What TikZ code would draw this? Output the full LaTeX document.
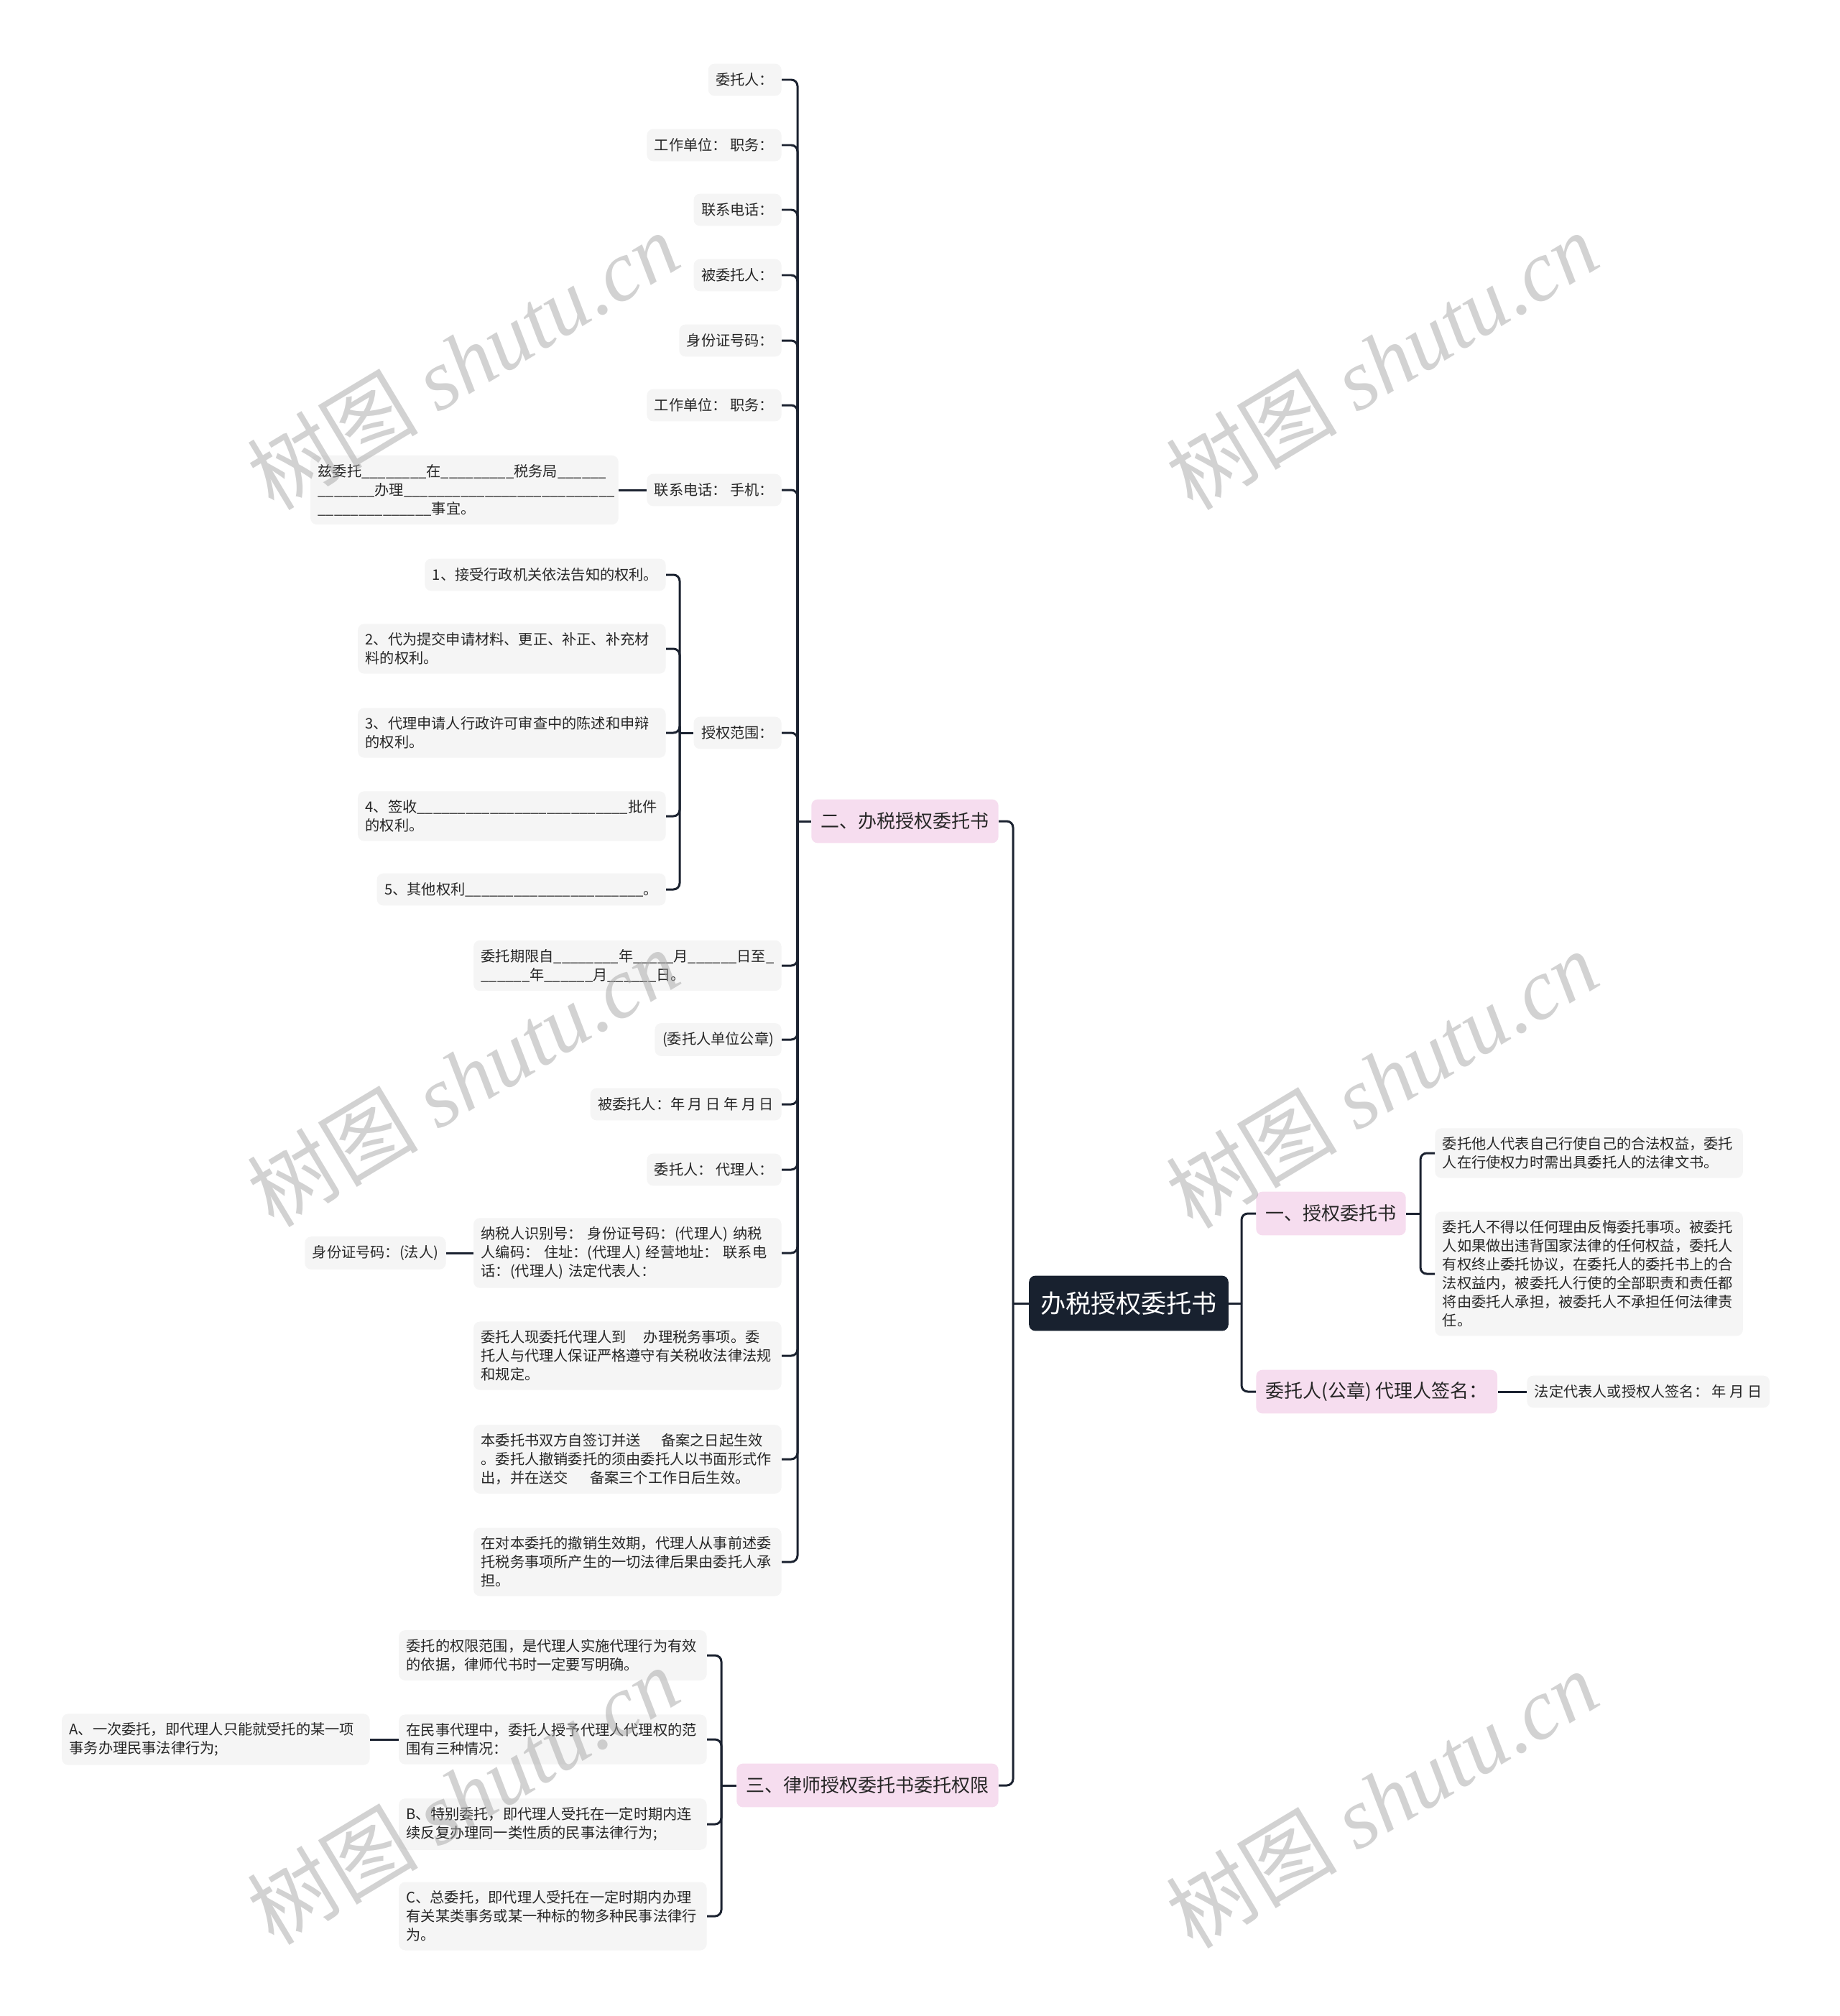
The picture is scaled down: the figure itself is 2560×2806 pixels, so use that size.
\documentclass[tikz,border=0pt]{standalone}
\usepackage{fontspec}
\setmainfont{Noto Sans CJK SC}
\newfontfamily\wmlatin{Liberation Serif}

\definecolor{rootnavy}{HTML}{18212F}
\definecolor{pinkfill}{HTML}{F6DDEF}
\definecolor{leafgray}{HTML}{F5F5F5}
\definecolor{linkcol}{HTML}{1B2230}

% a run of underscores
\newcommand\blank[1]{\foreach\k in {1,...,#1}{\_}}

\begin{document}
\begin{tikzpicture}[x=0.02cm,y=-0.02cm,
    rootbox/.style={fill=rootnavy,text=white,rounded corners=5pt,font=\fontsize{20}{24}\selectfont,inner xsep=9pt,inner ysep=0pt,minimum height=43.7pt},
    secbox/.style={fill=pinkfill,text=black!85,rounded corners=5pt,font=\fontsize{14.8}{18}\selectfont,inner xsep=7.5pt,inner ysep=0pt,minimum height=34.6pt},
    leaf/.style={fill=leafgray,text=black!85,rounded corners=5pt,font=\fontsize{11.5}{14.75}\selectfont,inner xsep=6pt,inner ysep=7pt,minimum height=25.5pt,align=left},
    wide/.style={leaf,text width=8.15cm},
    link/.style={draw=linkcol,line width=1.7pt,rounded corners=5pt},
    wmark/.style={text=black!35,text opacity=0.5,rotate=31,font=\fontsize{68}{76}\selectfont}]
    \useasboundingbox (0,0) rectangle (2560,2806);

    % Root and the four main branches
    \node[rootbox] (root) at (1571,1814) {办税授权委托书};
    \node[secbox,anchor=west] (sec1) at (1748,1689) {一、授权委托书};
    \node[secbox,anchor=west] (sign) at (1748,1937) {委托人(公章) 代理人签名：};
    \node[secbox,anchor=east] (sec2) at (1390,1143) {二、办税授权委托书};
    \node[secbox,anchor=east] (sec3) at (1390,2485) {三、律师授权委托书委托权限};

    % Right side leaves
    \node[wide,anchor=west] (s1a) at (1997,1605) {委托他人代表自己行使自己的合法权益，委托\\人在行使权力时需出具委托人的法律文书。};
    \node[wide,anchor=west] (s1b) at (1997,1773) {委托人不得以任何理由反悔委托事项。被委托\\人如果做出违背国家法律的任何权益，委托人\\有权终止委托协议，在委托人的委托书上的合\\法权益内，被委托人行使的全部职责和责任都\\将由委托人承担，被委托人不承担任何法律责\\任。};
    \node[leaf,anchor=west] (signd) at (2125,1937) {法定代表人或授权人签名：\ 年 月 日};

    % Branch two: the form fields
    \node[leaf,anchor=east] (b1) at (1088,111) {委托人：};
    \node[leaf,anchor=east] (b2) at (1088,202) {工作单位：\ 职务：};
    \node[leaf,anchor=east] (b3) at (1088,292) {联系电话：};
    \node[leaf,anchor=east] (b4) at (1088,383) {被委托人：};
    \node[leaf,anchor=east] (b5) at (1088,474) {身份证号码：};
    \node[leaf,anchor=east] (b6) at (1088,564) {工作单位：\ 职务：};
    \node[leaf,anchor=east] (b7) at (1088,682) {联系电话：\ 手机：};
    \node[leaf,anchor=east] (b8) at (1088,1020) {授权范围：};
    \node[wide,anchor=east] (b9) at (1088,1344) {委托期限自\blank{8}年\blank{5}月\blank{6}日至\_\\\blank{6}年\blank{6}月\blank{6}日。};
    \node[leaf,anchor=east] (b10) at (1088,1447) {(委托人单位公章)};
    \node[leaf,anchor=east] (b11) at (1088,1537) {被委托人：年 月 日 年 月 日};
    \node[leaf,anchor=east] (b12) at (1088,1628) {委托人：\ 代理人：};
    \node[wide,anchor=east] (b13) at (1088,1744) {纳税人识别号：\ 身份证号码：(代理人) 纳税\\人编码：\ 住址：(代理人) 经营地址：\ 联系电\\话：(代理人) 法定代表人：};
    \node[wide,anchor=east] (b14) at (1088,1887) {委托人现委托代理人到\hspace{1.2em}办理税务事项。委\\托人与代理人保证严格遵守有关税收法律法规\\和规定。};
    \node[wide,anchor=east] (b15) at (1088,2031) {本委托书双方自签订并送\hspace{1.4em}备案之日起生效\\。委托人撤销委托的须由委托人以书面形式作\\出，并在送交\hspace{1.5em}备案三个工作日后生效。};
    \node[wide,anchor=east] (b16) at (1088,2174) {在对本委托的撤销生效期，代理人从事前述委\\托税务事项所产生的一切法律后果由委托人承\\担。};

    \node[wide,anchor=east] (b7a) at (861,682) {兹委托\blank{8}在\blank{9}税务局\blank{6}\\\blank{7}办理\blank{26}\\\blank{14}事宜。};
    \node[leaf,anchor=east] (b13a) at (621,1744) {身份证号码：(法人)};

    % Scope of authority
    \node[leaf,anchor=east] (sc1) at (927,800) {1、接受行政机关依法告知的权利。};
    \node[wide,anchor=east] (sc2) at (927,903) {2、代为提交申请材料、更正、补正、补充材\\料的权利。};
    \node[wide,anchor=east] (sc3) at (927,1020) {3、代理申请人行政许可审查中的陈述和申辩\\的权利。};
    \node[wide,anchor=east] (sc4) at (927,1136) {4、签收\blank{26}批件\\的权利。};
    \node[leaf,anchor=east] (sc5) at (927,1238) {5、其他权利\blank{22}。};

    % Branch three
    \node[wide,anchor=east] (c1) at (984,2304) {委托的权限范围，是代理人实施代理行为有效\\的依据，律师代书时一定要写明确。};
    \node[wide,anchor=east] (c2) at (984,2421) {在民事代理中，委托人授予代理人代理权的范\\围有三种情况：};
    \node[wide,anchor=east] (c3) at (984,2539) {B、特别委托，即代理人受托在一定时期内连\\续反复办理同一类性质的民事法律行为;};
    \node[wide,anchor=east] (c4) at (984,2667) {C、总委托，即代理人受托在一定时期内办理\\有关某类事务或某一种标的物多种民事法律行\\为。};
    \node[wide,anchor=east] (c2a) at (515,2421) {A、一次委托，即代理人只能就受托的某一项\\事务办理民事法律行为;};

    % Trunks
    \coordinate (tR) at (1728,1814);
    \coordinate (tL) at (1410,1814);
    \coordinate (t1) at (1977,1689);
    \coordinate (t2) at (1110,1143);
    \coordinate (tS) at (946,1020);
    \coordinate (t3) at (1004,2485);

    % Connectors
    \draw[link] (root.east) -- (tR);
    \foreach \n in {sec1,sign} \draw[link] (tR) |- (\n.west);
    \draw[link] (root.west) -- (tL);
    \foreach \n in {sec2,sec3} \draw[link] (tL) |- (\n.east);
    \draw[link] (sec1.east) -- (t1);
    \foreach \n in {s1a,s1b} \draw[link] (t1) |- (\n.west);
    \draw[link] (sign.east) -- (signd.west);
    \draw[link] (sec2.west) -- (t2);
    \foreach \i in {1,...,16} \draw[link] (t2) |- (b\i.east);
    \draw[link] (b7.west) -- (b7a.east);
    \draw[link] (b13.west) -- (b13a.east);
    \draw[link] (b8.west) -- (tS);
    \foreach \i in {1,...,5} \draw[link] (tS) |- (sc\i.east);
    \draw[link] (sec3.west) -- (t3);
    \foreach \i in {1,...,4} \draw[link] (t3) |- (c\i.east);
    \draw[link] (c2.west) -- (c2a.east);

    % Watermarks
    \foreach \wx/\wy [count=\i] in {644/502,1923/502,644/1500,1923/1502,644/2499,1923/2504}
        \node[wmark] (wm\i) at (\wx,\wy) {树图 {\wmlatin\itshape shutu.cn}};
\end{tikzpicture}
\end{document}
